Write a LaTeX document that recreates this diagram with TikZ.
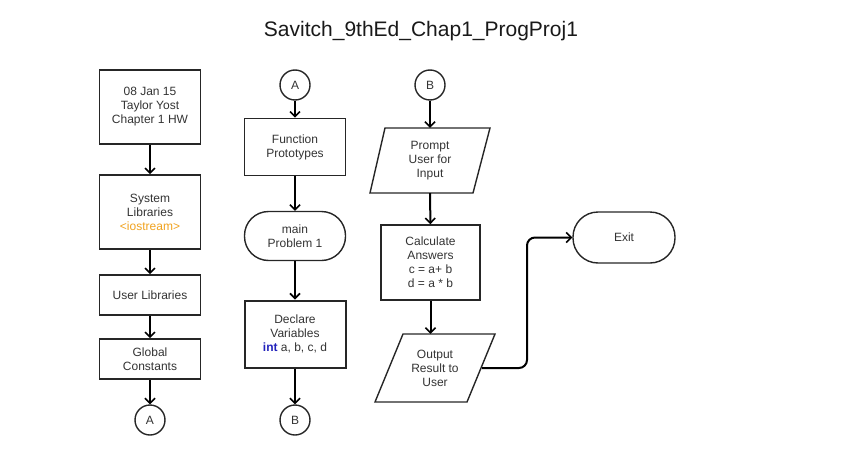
\documentclass[tikz,border=0pt]{standalone}
\usepackage{fontspec}
\setmainfont{Liberation Sans}
\usetikzlibrary{arrows.meta}
\definecolor{txt}{HTML}{333333}
\definecolor{orng}{HTML}{F0A21E}
\definecolor{blu}{HTML}{2222BB}
\begin{document}
\begin{tikzpicture}[x=1pt,y=-1pt,
  font=\fontsize{12}{14}\selectfont,
  every node/.style={text=txt,align=center},
  procbox/.style={draw=black!85,line width=1.6pt,rectangle,minimum width=101pt,inner sep=0pt},
  termbox/.style={draw=black!85,line width=1.4pt,rectangle,rounded corners=24pt,minimum width=101pt,minimum height=49pt,inner sep=0pt},
  conn/.style={draw=black!85,line width=1.4pt,circle,minimum size=30pt,inner sep=0pt},
  para/.style={draw=black!85,line width=1.4pt},
  flow/.style={draw=black,line width=2pt,-{Straight Barb[length=5pt,width=10pt,line width=1.6pt]}}]
\useasboundingbox (0,0) rectangle (843,455);
\node[font=\fontsize{21}{24}\selectfont,text=black!90] (title) at (421,31) {Savitch\_9thEd\_Chap1\_ProgProj1};
% column 1
\node[procbox,minimum height=74pt] (hdr) at (150,107) {08 Jan 15\\Taylor Yost\\Chapter 1 HW};
\node[procbox,minimum height=74pt] (sys) at (150,212) {System\\Libraries\\\textcolor{orng}{<iostream>}};
\node[procbox,minimum height=40pt] (usr) at (150,295) {User Libraries};
\node[procbox,minimum height=40pt] (glob) at (150,359) {Global\\Constants};
\node[conn] (a1) at (150,420) {A};
% column 2
\node[conn] (a2) at (295,85) {A};
\node[procbox,minimum height=57pt] (proto) at (295,147) {Function\\Prototypes};
\node[termbox] (main) at (295,236) {main\\Problem 1};
\node[procbox,line width=2pt,minimum height=67pt] (decl) at (295,334) {Declare\\Variables\\\textcolor{blu}{\bfseries int} a, b, c, d};
\node[conn] (b2) at (295,420) {B};
% column 3
\node[conn] (b3) at (430,85) {B};
\draw[para] (385,128) -- (490,128) -- (473,193) -- (370,193) -- cycle;
\node[minimum width=100pt,minimum height=65pt,inner sep=0pt] (prompt) at (430,160.5) {Prompt\\User for\\Input};
\node[procbox,minimum height=75pt,minimum width=99pt] (calc) at (430.5,262.5) {Calculate\\Answers\\c = a+ b\\d = a * b};
\draw[para] (403,334) -- (495,334) -- (467,402) -- (375,402) -- cycle;
\node[minimum width=100pt,minimum height=68pt,inner sep=0pt] (out) at (435,368) {Output\\Result to\\User};
\coordinate (outr) at (482,368);
\node[termbox,minimum height=51pt,minimum width=102pt,rounded corners=25pt] (exit) at (624,237.5) {Exit};
% connectors
\draw[flow] (hdr) -- (sys);
\draw[flow] (sys) -- (usr);
\draw[flow] (usr) -- (glob);
\draw[flow] (glob) -- (a1);
\draw[flow] (a2) -- (proto);
\draw[flow] (proto) -- (main);
\draw[flow] (main) -- (decl);
\draw[flow] (decl) -- (b2);
\draw[flow] (b3) -- (prompt);
\draw[flow] (prompt) -- (calc);
\draw[flow] (calc) -- (calc.south |- out.north);
\draw[flow,rounded corners=8pt] (outr) -- (527,368) -- (527,237.5) -- (exit.west);
\end{tikzpicture}
\end{document}
